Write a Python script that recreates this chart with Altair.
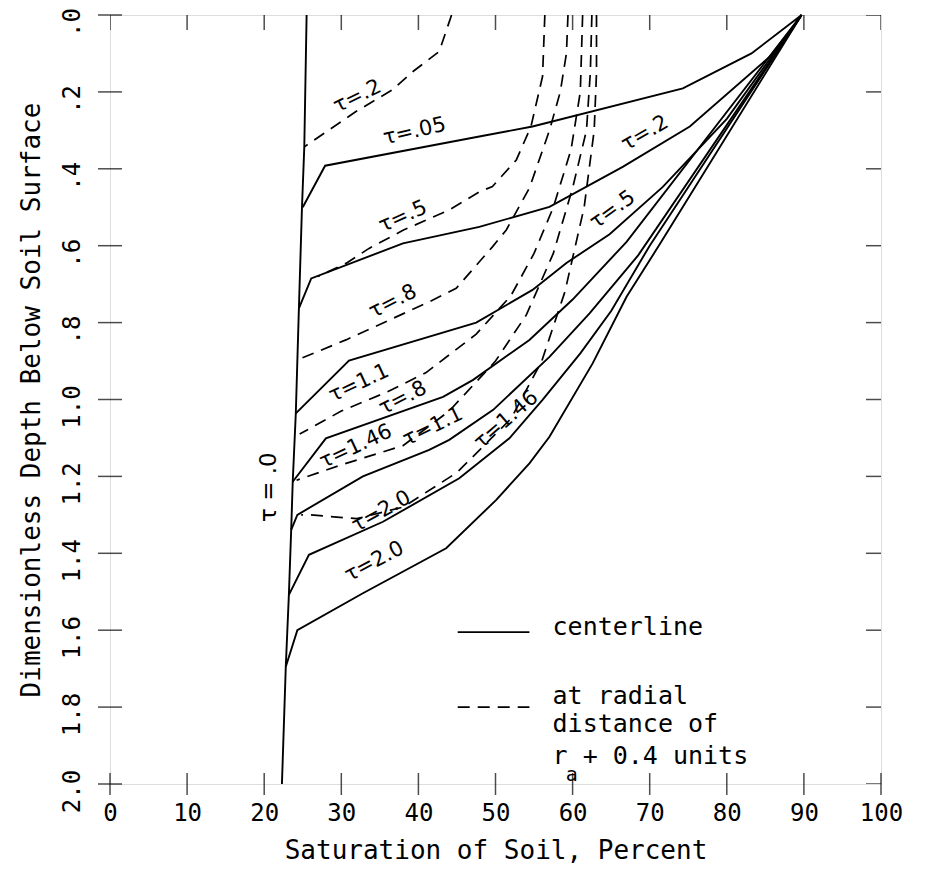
import altair as alt
import pandas as pd

# ---------------- data ----------------
X_TICKS = [0, 10, 20, 30, 40, 50, 60, 70, 80, 90, 100]
Y_TICKS = [0.0, 0.2, 0.4, 0.6, 0.8, 1.0, 1.2, 1.4, 1.6, 1.8, 2.0]
Y_TICK_LABELS = [".0", ".2", ".4", ".6", ".8", "1.0", "1.2", "1.4", "1.6", "1.8", "2.0"]

# tau = .0 line (saturation %, dimensionless depth)
tau0_x = [25.5, 25.2, 24.9, 24.5, 24.1, 23.7, 23.5, 23.2, 22.8, 22.3]
tau0_d = [0.0, 0.343, 0.5, 0.763, 1.036, 1.214, 1.339, 1.508, 1.695, 2.0]

# centerline curves (solid)
c005_x = [25.0, 27.9, 47.9, 54.8, 74.3, 83.2, 89.7]
c005_d = [0.50, 0.392, 0.316, 0.29, 0.191, 0.10, 0.0]
c02_x = [24.5, 26.1, 38.0, 47.9, 57.0, 66.5, 75.2, 85.6, 89.7]
c02_d = [0.763, 0.685, 0.594, 0.551, 0.499, 0.395, 0.29, 0.108, 0.0]
c05_x = [24.1, 31.0, 47.5, 54.8, 59.2, 64.8, 71.7, 80.0, 89.7]
c05_d = [1.036, 0.899, 0.80, 0.715, 0.645, 0.57, 0.447, 0.27, 0.0]
c08_x = [23.7, 28.0, 43.2, 47.1, 54.4, 60.0, 67.0, 89.7]
c08_d = [1.214, 1.101, 0.993, 0.949, 0.845, 0.74, 0.59, 0.0]
c11_x = [23.5, 24.3, 32.8, 41.4, 44.0, 49.7, 57.0, 62.2, 68.5, 89.7]
c11_d = [1.339, 1.30, 1.2, 1.131, 1.105, 1.027, 0.889, 0.776, 0.625, 0.0]
c146_x = [23.2, 25.8, 35.4, 45.3, 51.8, 56.1, 61.0, 65.0, 70.0, 89.7]
c146_d = [1.508, 1.404, 1.318, 1.205, 1.101, 1.001, 0.88, 0.77, 0.60, 0.0]
c20_x = [22.8, 24.3, 32.8, 43.6, 50.1, 54.4, 57.0, 62.6, 67.0, 71.5, 89.7]
c20_d = [1.695, 1.6, 1.504, 1.387, 1.261, 1.166, 1.097, 0.906, 0.733, 0.59, 0.0]

# radial distance r_a + 0.4 curves (dashed)
r02_x = [44.3, 42.7, 39.3, 36.6, 31.9, 25.2]
r02_d = [0.0, 0.095, 0.147, 0.195, 0.251, 0.343]
r05_x = [56.4, 56.1, 54.6, 52.7, 49.6, 47.9, 44.0, 38.0, 33.6, 30.6, 27.0]
r05_d = [0.0, 0.16, 0.29, 0.377, 0.446, 0.46, 0.507, 0.56, 0.607, 0.646, 0.68]
r08_x = [59.4, 59.2, 58.4, 57.0, 54.4, 51.4, 49.6, 44.9, 41.4, 30.6, 24.8]
r08_d = [0.0, 0.1, 0.2, 0.3, 0.45, 0.559, 0.603, 0.711, 0.746, 0.845, 0.893]
r11_x = [61.3, 61.0, 59.8, 57.5, 55.0, 52.0, 47.5, 41.0, 36.0, 30.0, 24.6]
r11_d = [0.0, 0.2, 0.35, 0.5, 0.62, 0.73, 0.83, 0.93, 0.98, 1.03, 1.09]
r146_x = [62.5, 62.3, 61.8, 60.0, 57.5, 54.0, 50.0, 44.0, 38.0, 30.0, 24.2]
r146_d = [0.0, 0.15, 0.3, 0.45, 0.62, 0.78, 0.9, 1.03, 1.12, 1.17, 1.21]
r20_x = [63.1, 63.1, 62.8, 61.5, 59.0, 56.0, 52.0, 45.0, 38.0, 32.0, 26.0, 24.8]
r20_d = [0.0, 0.15, 0.3, 0.5, 0.72, 0.9, 1.05, 1.19, 1.28, 1.31, 1.30, 1.30]

# curve labels
label_text = ["τ=.2", "τ=.05", "τ=.5", "τ=.2", "τ=.5", "τ=.8", "τ=1.1", "τ=.8",
              "τ=1.46", "τ=1.1", "τ=1.46", "τ=2.0", "τ=2.0"]
label_x = [32.1, 39.5, 38.0, 69.4, 65.2, 36.7, 32.3, 38.0, 31.9, 41.9, 51.4, 35.2, 34.3]
label_d = [0.212, 0.303, 0.525, 0.308, 0.507, 0.746, 0.958, 0.997, 1.123, 1.071, 1.053, 1.292, 1.422]
label_angle = [334, 347, 336, 330, 324, 333, 335, 333, 335, 334, 319, 331, 332]
tau0_label = "τ = .0"
tau0_label_x = 20.6
tau0_label_d = 1.228

# legend
legend_x = [45.1, 54.4]
legend_solid_d = 1.605
legend_dash_d = 1.80
legend_text = ["centerline", "at radial", "distance of", "r + 0.4 units"]
legend_text_x = 57.4
legend_text_d = [1.592, 1.772, 1.843, 1.927]
legend_sub = "a"
legend_sub_x = 59.9
legend_sub_d = 1.977

# ---------------- build tables ----------------
def curves(named):
    rows = []
    for name, xs, ds in named:
        for i, (x, d) in enumerate(zip(xs, ds)):
            rows.append({"curve": name, "seq": i, "x": x, "d": d})
    return pd.DataFrame(rows)

solid_df = curves([
    ("tau0", tau0_x, tau0_d), ("c005", c005_x, c005_d), ("c02", c02_x, c02_d),
    ("c05", c05_x, c05_d), ("c08", c08_x, c08_d), ("c11", c11_x, c11_d),
    ("c146", c146_x, c146_d), ("c20", c20_x, c20_d),
    ("leg_solid", legend_x, [legend_solid_d] * 2),
])
dash_df = curves([
    ("r02", r02_x, r02_d), ("r05", r05_x, r05_d), ("r08", r08_x, r08_d),
    ("r11", r11_x, r11_d), ("r146", r146_x, r146_d), ("r20", r20_x, r20_d),
    ("leg_dash", legend_x, [legend_dash_d] * 2),
])
labels_df = pd.DataFrame({"text": label_text, "x": label_x, "d": label_d, "angle": label_angle})
tau0_df = pd.DataFrame({"text": [tau0_label], "x": [tau0_label_x], "d": [tau0_label_d]})
legend_df = pd.DataFrame({"text": legend_text, "x": [legend_text_x] * 4, "d": legend_text_d})
sub_df = pd.DataFrame({"text": [legend_sub], "x": [legend_sub_x], "d": [legend_sub_d]})
xt_df = pd.DataFrame({"v": X_TICKS})
yt_df = pd.DataFrame({"v": Y_TICKS})

MONO = "DejaVu Sans Mono"
label_expr = "[" + ",".join("'%s'" % s for s in Y_TICK_LABELS) + "][indexof([" + \
    ",".join(str(v) for v in Y_TICKS) + "], datum.value)]"

xscale = alt.Scale(domain=[0, 100], nice=False, zero=False)
yscale = alt.Scale(domain=[0, 2.0], reverse=True, nice=False, zero=False)

x_enc = alt.X("x:Q", scale=xscale, axis=alt.Axis(
    values=X_TICKS, title="Saturation of Soil, Percent", ticks=False, domain=False,
    grid=False, labelFont=MONO, labelFontSize=24, labelColor="black", labelPadding=17,
    titleFont=MONO, titleFontSize=26, titleFontWeight="normal", titleColor="black",
    titlePadding=12, labelFlush=False))
y_enc = alt.Y("d:Q", scale=yscale, axis=alt.Axis(
    values=Y_TICKS, title="Dimensionless Depth Below Soil Surface", ticks=False,
    domain=False, grid=False, labelFont=MONO, labelFontSize=24, labelColor="black",
    labelAngle=270, labelAlign="center", labelBaseline="bottom", labelPadding=26,
    labelOffset=7, labelExpr=label_expr, labelFlush=False,
    titleFont=MONO, titleFontSize=26, titleFontWeight="normal", titleColor="black",
    titlePadding=16))

solid = alt.Chart(solid_df).mark_line(color="black", strokeWidth=1.9).encode(
    x=x_enc, y=y_enc, detail="curve:N", order="seq:Q")
dashed = alt.Chart(dash_df).mark_line(color="black", strokeWidth=1.7, strokeDash=[12, 8]).encode(
    x="x:Q", y="d:Q", detail="curve:N", order="seq:Q")

labels = alt.Chart(labels_df).mark_text(font="DejaVu Sans", fontSize=21, color="black").encode(
    x="x:Q", y="d:Q", text="text:N", angle=alt.Angle("angle:Q", scale=None))
tau0_txt = alt.Chart(tau0_df).mark_text(font="DejaVu Sans", fontSize=23, color="black", angle=270).encode(
    x="x:Q", y="d:Q", text="text:N")
legend_txt = alt.Chart(legend_df).mark_text(font=MONO, fontSize=25, color="black", align="left").encode(
    x="x:Q", y="d:Q", text="text:N")
legend_sub_txt = alt.Chart(sub_df).mark_text(font=MONO, fontSize=20, color="black", align="center").encode(
    x="x:Q", y="d:Q", text="text:N")

tick_style = dict(color="black", thickness=1.5)
bottom_ticks = alt.Chart(xt_df).mark_tick(orient="vertical", size=22, **tick_style).encode(
    x="v:Q", y=alt.datum(Y_TICKS[-1]))
top_ticks = alt.Chart(xt_df).mark_tick(orient="vertical", size=30, clip=True, **tick_style).encode(
    x="v:Q", y=alt.datum(Y_TICKS[0]))
left_ticks = alt.Chart(yt_df).mark_tick(orient="horizontal", size=24, **tick_style).encode(
    y="v:Q", x=alt.datum(X_TICKS[0]))
right_ticks = alt.Chart(yt_df).mark_tick(orient="horizontal", size=30, clip=True, **tick_style).encode(
    y="v:Q", x=alt.datum(X_TICKS[-1]))

chart = alt.layer(
    solid, dashed, labels, tau0_txt, legend_txt, legend_sub_txt,
    bottom_ticks, top_ticks, left_ticks, right_ticks,
).properties(
    width=771, height=769,
    autosize=alt.AutoSizeParams(type="none"),
    padding={"left": 102, "top": 7, "right": 30, "bottom": 88},
).configure_view(
    stroke="black", strokeWidth=1.6
).configure(background="white")

chart.save("out.html", embed_options={"renderer": "svg", "actions": False})
